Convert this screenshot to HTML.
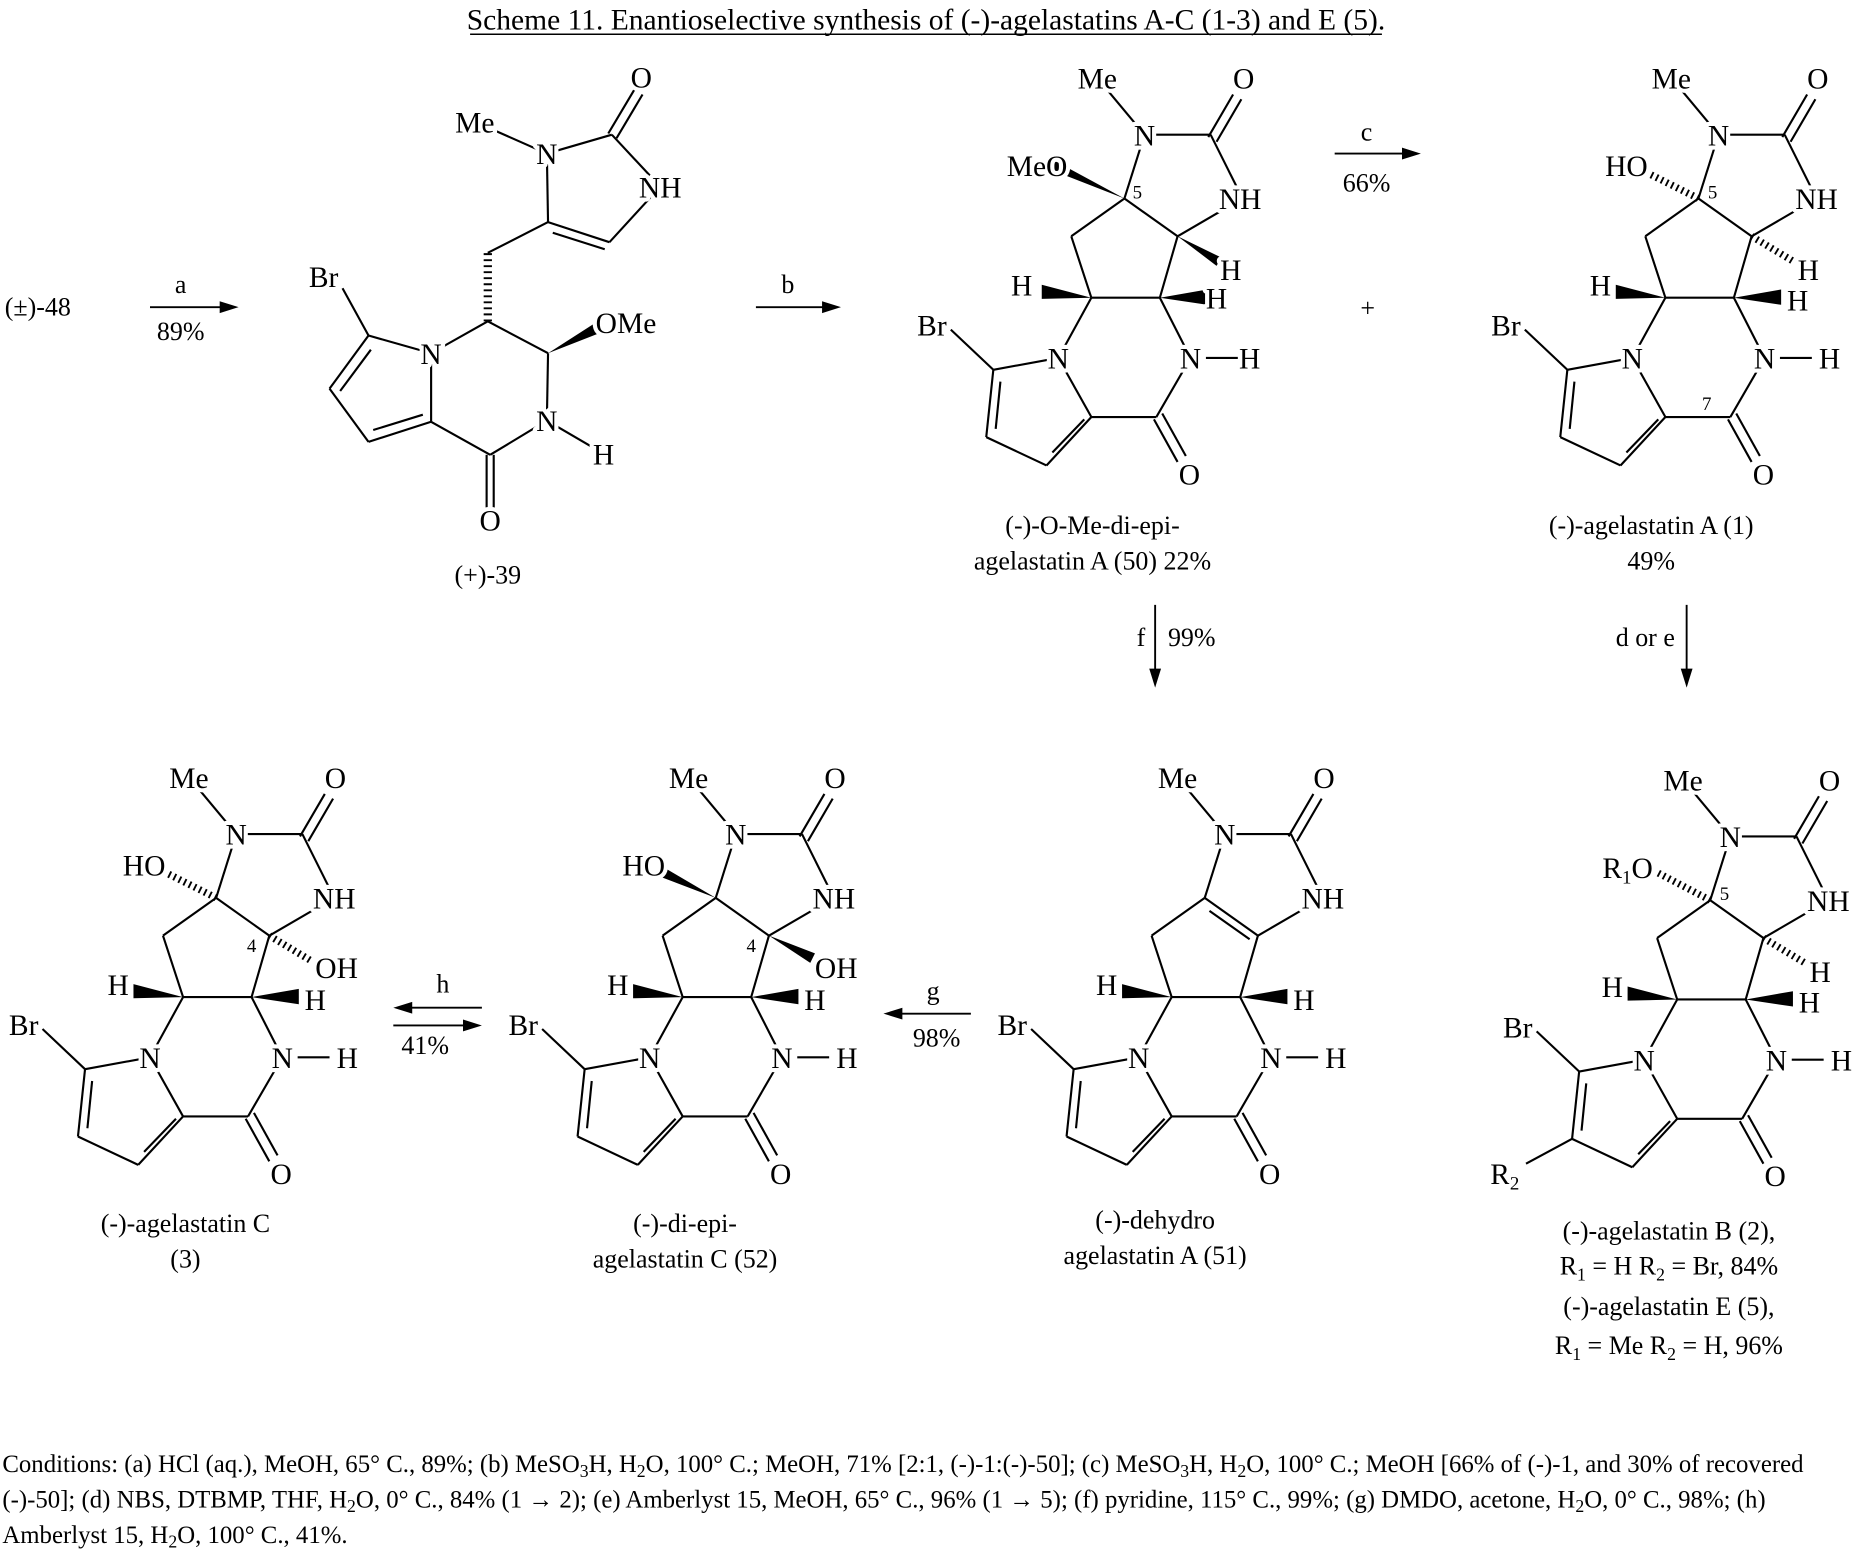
<!DOCTYPE html>
<html><head><meta charset="utf-8"><style>
html,body{margin:0;padding:0;background:#fff;}
svg{display:block;}
text{font-family:"Liberation Serif",serif;fill:#000;}
.a{font-size:25px;text-anchor:middle;stroke:#fff;stroke-width:7px;paint-order:stroke;stroke-linejoin:round;}
.n{font-size:16px;text-anchor:middle;stroke:#fff;stroke-width:4px;paint-order:stroke;}
.c{font-size:22px;text-anchor:middle;}
.l{font-size:21px;}
</style></head><body>
<svg width="1852" height="1550" viewBox="0 0 1568 1312" preserveAspectRatio="none" xmlns="http://www.w3.org/2000/svg">
<defs>
<g id="core" stroke="#000" stroke-width="1.8" fill="none">
<line x1="0" y1="0" x2="-55" y2="10"/>
<line x1="-55" y1="10" x2="-61" y2="67"/>
<line x1="-49" y1="20" x2="-53" y2="60"/>
<line x1="-61" y1="67" x2="-10" y2="91"/>
<line x1="-10" y1="91" x2="28" y2="50"/>
<line x1="-5" y1="80" x2="22" y2="52"/>
<line x1="28" y1="50" x2="0" y2="0"/>
<line x1="-55" y1="10" x2="-91" y2="-24"/>
<line x1="28" y1="50" x2="83" y2="50"/>
<line x1="81" y1="52" x2="101" y2="88"/>
<line x1="88" y1="47" x2="108" y2="83"/>
<line x1="83" y1="50" x2="112" y2="0"/>
<line x1="112" y1="0" x2="86" y2="-51"/>
<line x1="86" y1="-51" x2="28" y2="-51"/>
<line x1="28" y1="-51" x2="0" y2="0"/>
<line x1="28" y1="-51" x2="11" y2="-103"/>
<line x1="11" y1="-103" x2="56" y2="-135"/>
<line x1="56" y1="-135" x2="101" y2="-103"/>
<line x1="101" y1="-103" x2="86" y2="-51"/>
<line x1="56" y1="-135" x2="73" y2="-189"/>
<line x1="73" y1="-189" x2="129" y2="-189"/>
<line x1="127" y1="-187" x2="148" y2="-223"/>
<line x1="134" y1="-183" x2="155" y2="-219"/>
<line x1="129" y1="-189" x2="156" y2="-135"/>
<line x1="156" y1="-135" x2="101" y2="-103"/>
<line x1="73" y1="-189" x2="33" y2="-237"/>
<line x1="125" y1="0" x2="152" y2="0"/>
<polygon points="28,-51 -14,-62 -14,-50" fill="#000" stroke="none"/>
<polygon points="86,-51 126,-58 126,-45" fill="#000" stroke="none"/>
</g>
</defs>

<text class="c" x="784" y="25" style="font-size:25px">Scheme 11. Enantioselective synthesis of (-)-agelastatins A-C (1-3) and E (5).</text>
<line x1="398" y1="29" x2="1170" y2="29" stroke="#000" stroke-width="1.2"/>

<text class="c" x="32" y="267">(±)-48</text>
<g stroke="#000" stroke-width="1.6"><line x1="127" y1="260" x2="192" y2="260"/></g>
<polygon points="202,260 186,255 186,265" fill="#000"/>
<text class="c" x="153" y="248">a</text><text class="c" x="153" y="288">89%</text>

<g stroke="#000" stroke-width="1.8" fill="none">
<line x1="365" y1="299" x2="312" y2="284"/>
<line x1="312" y1="284" x2="279" y2="329"/>
<line x1="314" y1="296" x2="288" y2="331"/>
<line x1="279" y1="329" x2="312" y2="374"/>
<line x1="312" y1="374" x2="365" y2="357"/>
<line x1="316" y1="364" x2="358" y2="351"/>
<line x1="365" y1="357" x2="365" y2="299"/>
<line x1="312" y1="284" x2="290" y2="244"/>
<line x1="365" y1="357" x2="415" y2="385"/>
<line x1="412" y1="385" x2="412" y2="430"/>
<line x1="418" y1="385" x2="418" y2="430"/>
<line x1="415" y1="385" x2="463" y2="356"/>
<line x1="463" y1="356" x2="464" y2="299"/>
<line x1="464" y1="299" x2="413" y2="272"/>
<line x1="413" y1="272" x2="365" y2="299"/>
<line x1="463" y1="356" x2="511" y2="384"/>
<line x1="413" y1="272" x2="413" y2="214" stroke-width="7" stroke-dasharray="1.6 3.5"/>
<line x1="413" y1="214" x2="464" y2="188"/>
<line x1="464" y1="188" x2="516" y2="205"/>
<line x1="468" y1="197" x2="512" y2="211"/>
<line x1="516" y1="205" x2="559" y2="158"/>
<line x1="559" y1="158" x2="518" y2="114"/>
<line x1="518" y1="114" x2="463" y2="130"/>
<line x1="463" y1="130" x2="464" y2="188"/>
<line x1="515" y1="113" x2="537" y2="76"/>
<line x1="522" y1="117" x2="544" y2="80"/>
<line x1="463" y1="130" x2="402" y2="103"/>
</g>
<polygon points="464,299 506,272 510,281" fill="#000"/>
<text class="a" x="365" y="308">N</text>
<text class="a" x="274" y="243">Br</text>
<text class="a" x="415" y="449">O</text>
<text class="a" x="463" y="365">N</text>
<text class="a" x="511" y="393">H</text>
<text class="a" x="530" y="282">OMe</text>
<text class="a" x="463" y="139">N</text>
<text class="a" x="402" y="112">Me</text>
<text class="a" x="559" y="167">NH</text>
<text class="a" x="543" y="74">O</text>
<text class="c" x="413" y="494">(+)-39</text>

<line x1="640" y1="260" x2="702" y2="260" stroke="#000" stroke-width="1.6"/>
<polygon points="712,260 696,255 696,265" fill="#000"/>
<text class="c" x="667" y="248">b</text>

<g transform="translate(896,303)">
<use href="#core"/>
<polygon points="56,-135 -8,-160 -5,-168" fill="#000"/>
<polygon points="101,-103 134,-78 138,-85" fill="#000"/>
<text class="a" x="0" y="9">N</text><text class="a" x="-107" y="-19">Br</text>
<text class="a" x="112" y="9">N</text><text class="a" x="162" y="9">H</text>
<text class="a" x="111" y="107">O</text>
<text class="a" x="-31" y="-53">H</text><text class="a" x="134" y="-42">H</text>
<text class="a" x="146" y="-66">H</text>
<text class="a" x="-18" y="-154">MeO</text>
<text class="n" x="67" y="-135">5</text>
<text class="a" x="73" y="-180">N</text><text class="a" x="33" y="-228">Me</text>
<text class="a" x="157" y="-228">O</text><text class="a" x="154" y="-126">NH</text>
</g>
<text class="c" x="925" y="452">(-)-O-Me-di-epi-</text>
<text class="c" x="925" y="482">agelastatin A (50) 22%</text>

<line x1="1130" y1="130" x2="1193" y2="130" stroke="#000" stroke-width="1.6"/>
<polygon points="1203,130 1187,125 1187,135" fill="#000"/>
<text class="c" x="1157" y="119">c</text><text class="c" x="1157" y="162">66%</text>
<text class="c" x="1158" y="268">+</text>

<g transform="translate(1382,303)">
<use href="#core"/>
<g stroke="#000" stroke-width="6" stroke-dasharray="1.6 3.2"><line x1="56" y1="-135" x2="10" y2="-158"/><line x1="101" y1="-103" x2="136" y2="-82"/></g>
<text class="a" x="0" y="9">N</text><text class="a" x="-107" y="-19">Br</text>
<text class="a" x="112" y="9">N</text><text class="a" x="167" y="9">H</text>
<text class="a" x="111" y="107">O</text>
<text class="a" x="-27" y="-53">H</text><text class="a" x="140" y="-40">H</text>
<text class="a" x="149" y="-66">H</text>
<text class="a" x="-5" y="-154">HO</text>
<text class="n" x="68" y="-135">5</text><text class="n" x="63" y="44">7</text>
<text class="a" x="73" y="-180">N</text><text class="a" x="33" y="-228">Me</text>
<text class="a" x="157" y="-228">O</text><text class="a" x="156" y="-126">NH</text>
</g>
<text class="c" x="1398" y="452">(-)-agelastatin A (1)</text>
<text class="c" x="1398" y="482">49%</text>

<line x1="978" y1="512" x2="978" y2="572" stroke="#000" stroke-width="1.6"/>
<polygon points="978,582 973,566 983,566" fill="#000"/>
<text class="c" x="966" y="547">f</text><text class="c" x="1009" y="547">99%</text>
<line x1="1428" y1="512" x2="1428" y2="572" stroke="#000" stroke-width="1.6"/>
<polygon points="1428,582 1423,566 1433,566" fill="#000"/>
<text class="c" x="1393" y="547">d or e</text>

<g transform="translate(127,895)">
<use href="#core"/>
<g stroke="#000" stroke-width="6" stroke-dasharray="1.6 3.2"><line x1="56" y1="-135" x2="10" y2="-158"/><line x1="101" y1="-103" x2="136" y2="-82"/></g>
<text class="a" x="0" y="9">N</text><text class="a" x="-107" y="-19">Br</text>
<text class="a" x="112" y="9">N</text><text class="a" x="167" y="9">H</text>
<text class="a" x="111" y="107">O</text>
<text class="a" x="-27" y="-53">H</text><text class="a" x="140" y="-40">H</text>
<text class="a" x="158" y="-67">OH</text>
<text class="a" x="-5" y="-154">HO</text>
<text class="n" x="86" y="-89">4</text>
<text class="a" x="73" y="-180">N</text><text class="a" x="33" y="-228">Me</text>
<text class="a" x="157" y="-228">O</text><text class="a" x="156" y="-126">NH</text>
</g>
<text class="c" x="157" y="1043">(-)-agelastatin C</text>
<text class="c" x="157" y="1073">(3)</text>

<g stroke="#000" stroke-width="1.6"><line x1="408" y1="853" x2="343" y2="853"/><line x1="333" y1="868" x2="398" y2="868"/></g>
<polygon points="333,853 349,848 349,858" fill="#000"/>
<polygon points="408,868 392,863 392,873" fill="#000"/>
<text class="c" x="375" y="840">h</text><text class="c" x="360" y="892">41%</text>

<g transform="translate(550,895)">
<use href="#core"/>
<polygon points="56,-135 10,-162 6,-154" fill="#000"/>
<polygon points="101,-103 136,-80 140,-88" fill="#000"/>
<text class="a" x="0" y="9">N</text><text class="a" x="-107" y="-19">Br</text>
<text class="a" x="112" y="9">N</text><text class="a" x="167" y="9">H</text>
<text class="a" x="111" y="107">O</text>
<text class="a" x="-27" y="-53">H</text><text class="a" x="140" y="-40">H</text>
<text class="a" x="158" y="-67">OH</text>
<text class="a" x="-5" y="-154">HO</text>
<text class="n" x="86" y="-89">4</text>
<text class="a" x="73" y="-180">N</text><text class="a" x="33" y="-228">Me</text>
<text class="a" x="157" y="-228">O</text><text class="a" x="156" y="-126">NH</text>
</g>
<text class="c" x="580" y="1043">(-)-di-epi-</text>
<text class="c" x="580" y="1073">agelastatin C (52)</text>

<line x1="822" y1="858" x2="758" y2="858" stroke="#000" stroke-width="1.6"/>
<polygon points="748,858 764,853 764,863" fill="#000"/>
<text class="c" x="790" y="846">g</text><text class="c" x="793" y="886">98%</text>

<g transform="translate(964,895)">
<use href="#core"/>
<line x1="60" y1="-124" x2="94" y2="-100" stroke="#000" stroke-width="1.8"/>
<text class="a" x="0" y="9">N</text><text class="a" x="-107" y="-19">Br</text>
<text class="a" x="112" y="9">N</text><text class="a" x="167" y="9">H</text>
<text class="a" x="111" y="107">O</text>
<text class="a" x="-27" y="-53">H</text><text class="a" x="140" y="-40">H</text>
<text class="a" x="73" y="-180">N</text><text class="a" x="33" y="-228">Me</text>
<text class="a" x="157" y="-228">O</text><text class="a" x="156" y="-126">NH</text>
</g>
<text class="c" x="978" y="1040">(-)-dehydro</text>
<text class="c" x="978" y="1070">agelastatin A (51)</text>

<g transform="translate(1392,897)">
<use href="#core"/>
<line x1="-61" y1="67" x2="-100" y2="88" stroke="#000" stroke-width="1.8"/>
<g stroke="#000" stroke-width="6" stroke-dasharray="1.6 3.2"><line x1="56" y1="-135" x2="12" y2="-158"/><line x1="101" y1="-103" x2="136" y2="-82"/></g>
<text class="a" x="0" y="9">N</text><text class="a" x="-107" y="-19">Br</text>
<text class="a" x="112" y="9">N</text><text class="a" x="167" y="9">H</text>
<text class="a" x="111" y="107">O</text>
<text class="a" x="-27" y="-53">H</text><text class="a" x="140" y="-40">H</text>
<text class="a" x="149" y="-66">H</text>
<text class="a" x="-14" y="-154">R<tspan font-size="16" dy="5">1</tspan><tspan dy="-5">O</tspan></text>
<text class="n" x="68" y="-135">5</text>
<text class="a" x="-118" y="105">R<tspan font-size="16" dy="5">2</tspan></text>
<text class="a" x="73" y="-180">N</text><text class="a" x="33" y="-228">Me</text>
<text class="a" x="157" y="-228">O</text><text class="a" x="156" y="-126">NH</text>
</g>
<text class="c" x="1413" y="1049">(-)-agelastatin B (2),</text>
<text class="c" x="1413" y="1079">R<tspan font-size="15" dy="5">1</tspan><tspan dy="-5"> = H R</tspan><tspan font-size="15" dy="5">2</tspan><tspan dy="-5"> = Br, 84%</tspan></text>
<text class="c" x="1413" y="1113">(-)-agelastatin E (5),</text>
<text class="c" x="1413" y="1146">R<tspan font-size="15" dy="5">1</tspan><tspan dy="-5"> = Me R</tspan><tspan font-size="15" dy="5">2</tspan><tspan dy="-5"> = H, 96%</tspan></text>

<text class="l" x="2" y="1246">Conditions: (a) HCl (aq.), MeOH, 65° C., 89%; (b) MeSO<tspan font-size="15" dy="4">3</tspan><tspan dy="-4">H, H</tspan><tspan font-size="15" dy="4">2</tspan><tspan dy="-4">O, 100° C.; MeOH, 71% [2:1, (-)-1:(-)-50]; (c) MeSO</tspan><tspan font-size="15" dy="4">3</tspan><tspan dy="-4">H, H</tspan><tspan font-size="15" dy="4">2</tspan><tspan dy="-4">O, 100° C.; MeOH [66% of (-)-1, and 30% of recovered</tspan></text>
<text class="l" x="2" y="1276">(-)-50]; (d) NBS, DTBMP, THF, H<tspan font-size="15" dy="4">2</tspan><tspan dy="-4">O, 0° C., 84% (1 → 2); (e) Amberlyst 15, MeOH, 65° C., 96% (1 → 5); (f) pyridine, 115° C., 99%; (g) DMDO, acetone, H</tspan><tspan font-size="15" dy="4">2</tspan><tspan dy="-4">O, 0° C., 98%; (h)</tspan></text>
<text class="l" x="2" y="1306">Amberlyst 15, H<tspan font-size="15" dy="4">2</tspan><tspan dy="-4">O, 100° C., 41%.</tspan></text>
</svg>
</body></html>
